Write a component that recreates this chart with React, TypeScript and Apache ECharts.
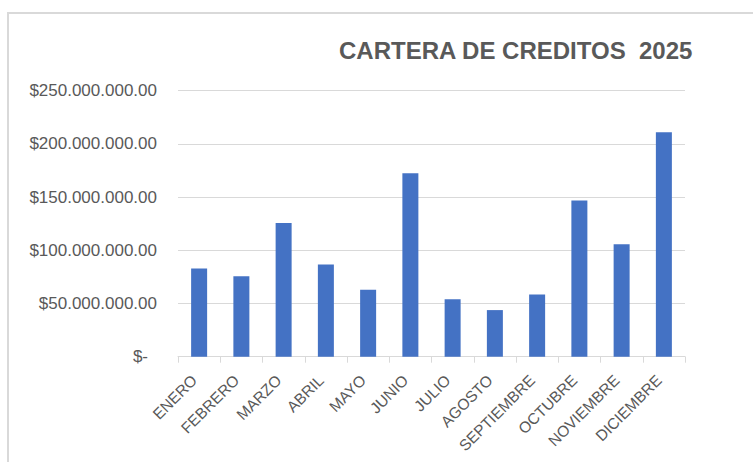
import React, { useEffect, useRef } from "react";
import * as echarts from "echarts";

const categories = [
  "ENERO", "FEBRERO", "MARZO", "ABRIL", "MAYO", "JUNIO",
  "JULIO", "AGOSTO", "SEPTIEMBRE", "OCTUBRE", "NOVIEMBRE", "DICIEMBRE",
];
const values = [
  83000000, 75500000, 125700000, 86700000, 63000000, 172300000,
  54100000, 43800000, 58500000, 146700000, 105700000, 211000000,
];
const titleText = "CARTERA DE CREDITOS  2025";
const yMax = 250000000;
const yInterval = 50000000;

const FONT = "'Liberation Sans', Arial, sans-serif";
const GRAY = "#595959";

function fmt(v: number): string {
  if (v === 0) return "{z|$-}";
  const s = Math.round(v).toString().replace(/\B(?=(\d{3})+(?!\d))/g, ".");
  return "$" + s + ".00";
}

export default function App() {
  const ref = useRef<HTMLDivElement>(null);
  useEffect(() => {
    document.body.style.margin = "0";
    if (!ref.current) return;
    const chart = echarts.init(ref.current, undefined, { renderer: "svg" });
    chart.setOption({
      animation: false,
      backgroundColor: "#ffffff",
      title: {
        text: titleText,
        left: 334,
        top: 33,
        textStyle: { fontFamily: FONT, fontSize: 24, fontWeight: "bold", color: GRAY },
      },
      graphic: [
        {
          type: "polyline",
          shape: { points: [[8, 462], [8, 13], [753, 13]] },
          style: { stroke: "#d9d9d9", lineWidth: 2, fill: "none" },
          silent: true,
        },
      ],
      grid: { left: 178, right: 68, top: 90.7, bottom: 105.3, containLabel: false },
      xAxis: {
        type: "category",
        data: categories,
        axisLine: { show: true, lineStyle: { color: "#d9d9d9", width: 1 } },
        axisTick: { show: true, alignWithLabel: false, length: 6, lineStyle: { color: "#d9d9d9" } },
        axisLabel: {
          rotate: 45,
          interval: 0,
          margin: 16,
          padding: [0, 7, 0, 0],
          fontFamily: FONT,
          fontSize: 15.5,
          color: GRAY,
        },
      },
      yAxis: {
        type: "value",
        min: 0,
        max: yMax,
        interval: yInterval,
        axisLine: { show: false },
        axisTick: { show: false },
        splitLine: { lineStyle: { color: "#d9d9d9", width: 1 } },
        axisLabel: {
          margin: 21,
          fontFamily: FONT,
          fontSize: 17,
          color: GRAY,
          formatter: fmt,
          rich: {
            z: { fontFamily: FONT, fontSize: 17, color: GRAY, padding: [0, 9, 0, 0] },
          },
        },
      },
      series: [
        {
          type: "bar",
          data: values,
          barWidth: 16,
          itemStyle: { color: "#4472C4" },
        },
      ],
    });
    return () => chart.dispose();
  }, []);
  return <div ref={ref} style={{ width: 753, height: 462 }} />;
}
